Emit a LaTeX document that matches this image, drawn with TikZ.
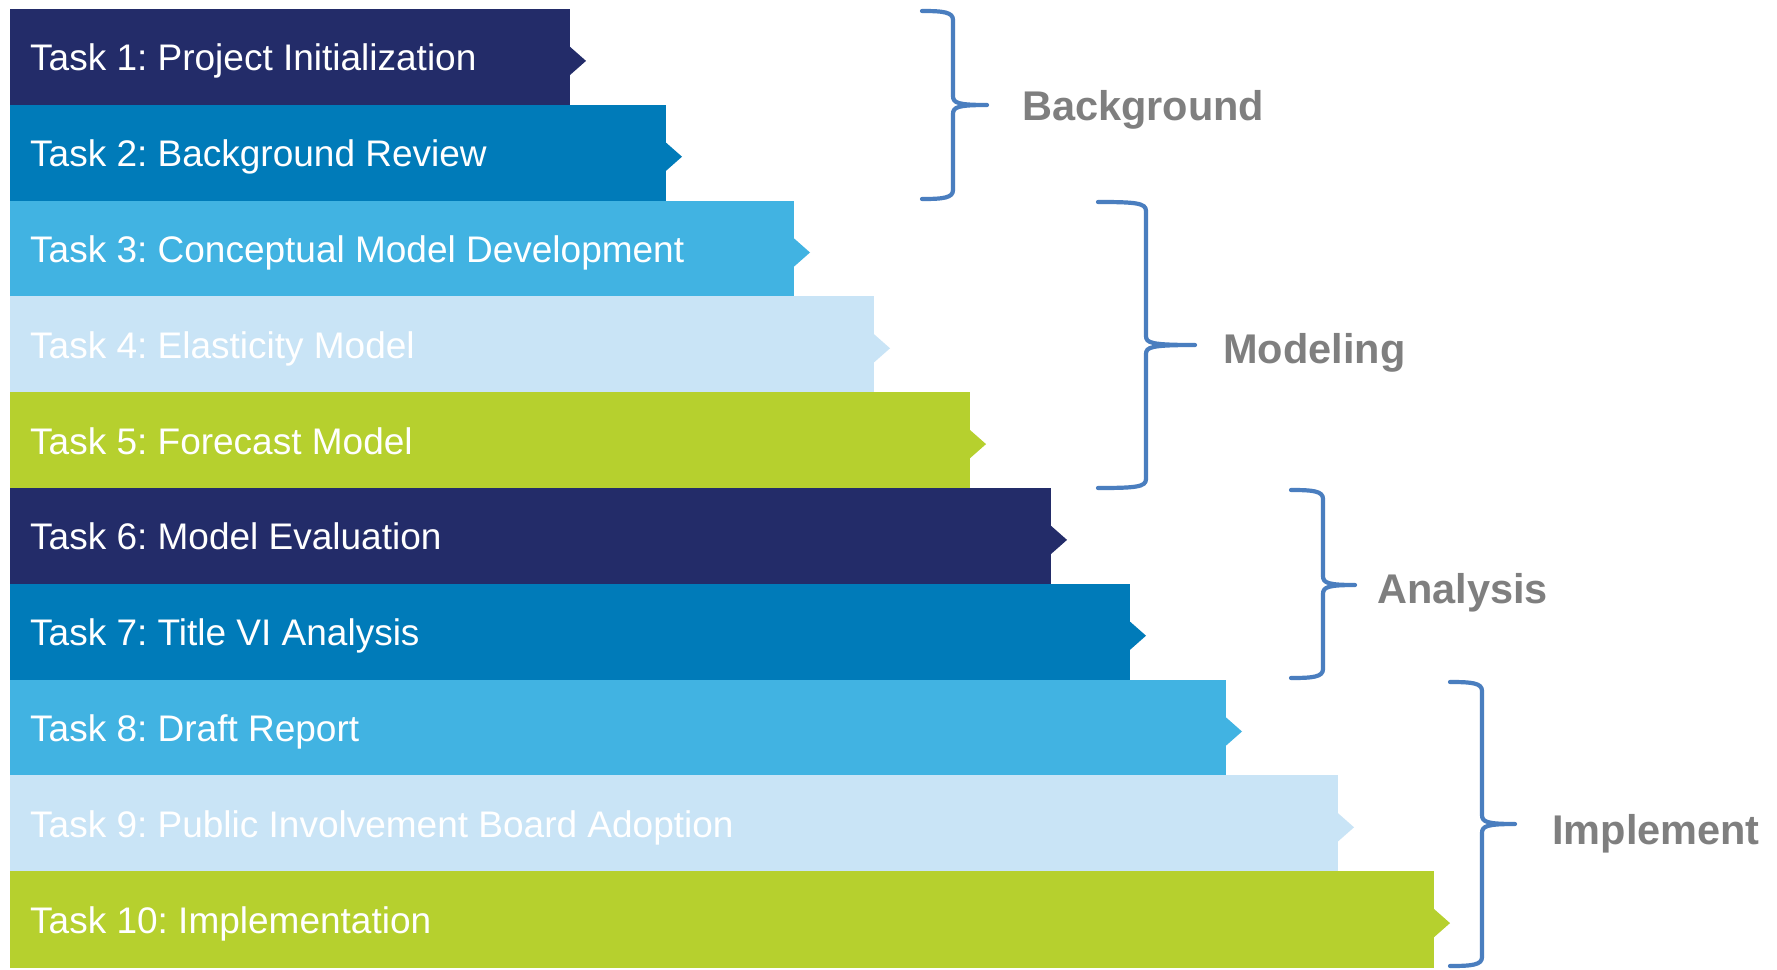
\documentclass[tikz,border=0pt]{standalone}
\usepackage{fontspec}
\setmainfont{Liberation Sans}
\frenchspacing
\definecolor{cNavy}{HTML}{232C69}
\definecolor{cBlue}{HTML}{007BB9}
\definecolor{cSky}{HTML}{41B3E2}
\definecolor{cPale}{HTML}{C9E4F6}
\definecolor{cLime}{HTML}{B6D02E}
\definecolor{cBrace}{HTML}{4A7EBF}
\definecolor{cGrey}{HTML}{7F7F7F}
\begin{document}
\begin{tikzpicture}[x=1pt,y=-1pt,
  tasktext/.style={anchor=base west, text=white, inner sep=0pt, font=\fontsize{37}{44}\selectfont},
  phaselabel/.style={anchor=base west, text=cGrey, inner sep=0pt, font=\bfseries\fontsize{41.5}{48}\selectfont},
  bracestyle/.style={draw=cBrace, line width=4.2pt, line cap=round, line join=round}]
\useasboundingbox (0,0) rectangle (1777,969);
\fill[white] (0,0) rectangle (1777,969);
\foreach \i/\r/\col/\txt in {
  1/570/cNavy/{Task 1: Project Initialization},
  2/666/cBlue/{Task 2: Background Review},
  3/794/cSky/{Task 3: Conceptual Model Development},
  4/874/cPale/{Task 4: Elasticity Model},
  5/970/cLime/{Task 5: Forecast Model},
  6/1051/cNavy/{Task 6: Model Evaluation},
  7/1130/cBlue/{Task 7: Title VI Analysis},
  8/1226/cSky/{Task 8: Draft Report},
  9/1338/cPale/{Task 9: Public Involvement Board Adoption},
  10/1434/cLime/{Task 10: Implementation}} {
  \pgfmathsetmacro\ytop{9+95.8*(\i-1)}
  \pgfmathsetmacro\ybot{9+95.8*\i}
  \pgfmathsetmacro\ymid{(\ytop+\ybot)/2}
  \fill[\col] (10,\ytop) rectangle (\r,\ybot+0.6);
  \fill[\col] (\r-1,\ymid-11) -- (\r+16,\ymid+4) -- (\r-1,\ymid+19) -- cycle;
  \node[tasktext] (task\i) at (30,\ymid+14) {\txt};
}
\foreach \a/\b/\c/\d/\e/\f in {
  922/953/987/11/105/199,
  1098/1146/1195/202/345/488,
  1291/1323/1355/490/585/678,
  1450/1482/1515/682/824/966} {
  \draw[bracestyle] (\a,\d) .. controls (\b-10,\d) and (\b,\d+1) .. (\b,\d+9)
    -- (\b,\e-9) .. controls (\b,\e-2) and (\b+5,\e) .. (\c,\e)
    .. controls (\b+5,\e) and (\b,\e+2) .. (\b,\e+9)
    -- (\b,\f-9) .. controls (\b,\f-1) and (\b-10,\f) .. (\a,\f);
}
\node[phaselabel] (background) at (1022,120) {Background};
\node[phaselabel] (modeling) at (1223,363) {Modeling};
\node[phaselabel] (analysis) at (1377,603) {Analysis};
\node[phaselabel] (implement) at (1552,844) {Implement};
\end{tikzpicture}
\end{document}
